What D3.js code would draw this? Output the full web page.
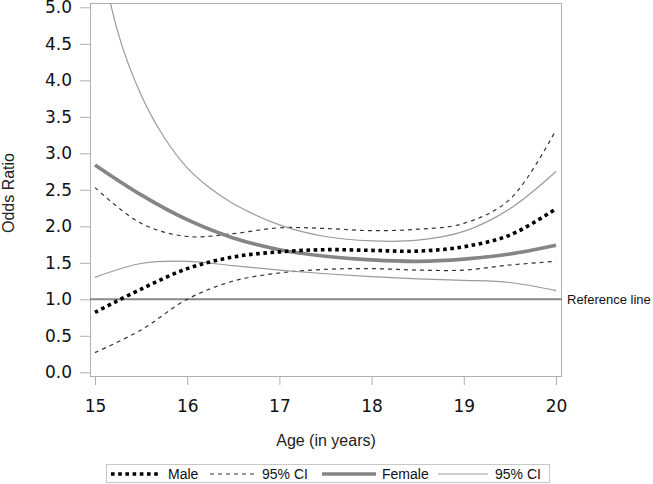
<!DOCTYPE html>
<html>
<head>
<meta charset="utf-8">
<script src="https://cdn.jsdelivr.net/npm/d3@7"></script>
<style>
  html, body { margin: 0; padding: 0; background: #fff; }
  svg { display: block; }
</style>
</head>
<body>
<svg id="chart" width="653" height="484"></svg>
<script>
// ---- data ----
const ages = [15, 15.5, 16, 16.5, 17, 17.5, 18, 18.5, 19, 19.5, 20];
const maleOR   = [0.82, 1.14, 1.42, 1.58, 1.65, 1.68, 1.67, 1.66, 1.72, 1.88, 2.24];
const maleLo   = [0.27, 0.58, 1.00, 1.25, 1.36, 1.41, 1.42, 1.40, 1.40, 1.47, 1.52];
const maleHi   = [2.53, 2.04, 1.86, 1.90, 1.98, 1.97, 1.94, 1.96, 2.04, 2.37, 3.32];
const femaleOR = [2.84, 2.43, 2.09, 1.84, 1.68, 1.59, 1.54, 1.52, 1.55, 1.62, 1.74];
const femaleLo = [1.30, 1.49, 1.52, 1.46, 1.40, 1.35, 1.31, 1.28, 1.26, 1.23, 1.12];
const femaleHiAges = [15, 15.25, 15.5, 15.75, 16, 16.25, 16.5, 17, 17.5, 18, 18.5, 19, 19.5, 20];
const femaleHi     = [6.1, 4.65, 3.8, 3.22, 2.8, 2.52, 2.31, 2.02, 1.86, 1.80, 1.81, 1.93, 2.24, 2.75];
const xTicks = [15, 16, 17, 18, 19, 20];
const yTicks = [0, 0.5, 1, 1.5, 2, 2.5, 3, 3.5, 4, 4.5, 5];
const referenceValue = 1;
const legendLabels = ["Male", "95% CI", "Female", "95% CI"];
const xTitle = "Age (in years)";
const yTitle = "Odds Ratio";
const refLabel = "Reference line";

// ---- layout ----
const frame = { left: 90, right: 562, top: 3, bottom: 377 };
const svg = d3.select("#chart");

const x = d3.scaleLinear().domain([15, 20]).range([95, 556]);
const y = d3.scaleLinear().domain([0, 5]).range([372.3, 7.3]);

const tickFont = "'DejaVu Sans', sans-serif";
const textFont = "'Liberation Sans', Arial, sans-serif";

// clip
svg.append("defs").append("clipPath").attr("id", "plotclip")
  .append("rect")
  .attr("x", frame.left).attr("y", frame.top)
  .attr("width", frame.right - frame.left).attr("height", frame.bottom - frame.top);

// frame
svg.append("rect")
  .attr("x", frame.left + 0.5).attr("y", frame.top + 0.5)
  .attr("width", frame.right - frame.left - 1).attr("height", frame.bottom - frame.top - 1)
  .attr("fill", "none").attr("stroke", "#b0b0b0").attr("stroke-width", 1);

// y axis
const yAxis = svg.append("g")
  .attr("transform", `translate(${frame.left},0)`)
  .call(d3.axisLeft(y).tickValues(yTicks).tickFormat(d3.format(".1f"))
        .tickSize(10).tickPadding(8).tickSizeOuter(0));
yAxis.select(".domain").remove();
yAxis.selectAll(".tick line").attr("stroke", "#b0b0b0");
yAxis.selectAll(".tick text").attr("font-family", tickFont).attr("font-size", 17).attr("fill", "#111");

// x axis
const xAxis = svg.append("g")
  .attr("transform", `translate(0,${frame.bottom})`)
  .call(d3.axisBottom(x).tickValues(xTicks).tickFormat(d3.format("d"))
        .tickSize(8).tickPadding(15).tickSizeOuter(0));
xAxis.select(".domain").remove();
xAxis.selectAll(".tick line").attr("stroke", "#b0b0b0");
xAxis.selectAll(".tick text").attr("font-family", tickFont).attr("font-size", 17).attr("fill", "#111");

// axis titles
svg.append("text")
  .attr("x", (frame.left + frame.right) / 2).attr("y", 446)
  .attr("text-anchor", "middle")
  .attr("font-family", textFont).attr("font-size", 16).attr("fill", "#222")
  .text(xTitle);
svg.append("text")
  .attr("transform", `translate(14,193) rotate(-90)`)
  .attr("text-anchor", "middle")
  .attr("font-family", textFont).attr("font-size", 16).attr("fill", "#222")
  .text(yTitle);

// reference line
svg.append("line")
  .attr("x1", frame.left).attr("x2", frame.right)
  .attr("y1", y(referenceValue)).attr("y2", y(referenceValue))
  .attr("stroke", "#888").attr("stroke-width", 2);
svg.append("text")
  .attr("x", frame.right + 5).attr("y", y(referenceValue) + 4.5)
  .attr("font-family", textFont).attr("font-size", 13).attr("fill", "#111")
  .text(refLabel);

// series
const styles = {
  male:   { stroke: "#000",    width: 3.6, dash: "3.6,3.6" },
  maleCI: { stroke: "#333",    width: 1.2, dash: "4,4" },
  female: { stroke: "#858585", width: 3.6, dash: null },
  femCI:  { stroke: "#9a9a9a", width: 1.2, dash: null }
};

const series = [
  { xs: ages, ys: maleLo, style: styles.maleCI },
  { xs: ages, ys: maleHi, style: styles.maleCI },
  { xs: ages, ys: femaleLo, style: styles.femCI },
  { xs: femaleHiAges, ys: femaleHi, style: styles.femCI },
  { xs: ages, ys: femaleOR, style: styles.female },
  { xs: ages, ys: maleOR, style: styles.male }
];

const line = d3.line().x(d => x(d[0])).y(d => y(d[1])).curve(d3.curveCatmullRom.alpha(0.5));
const plot = svg.append("g").attr("clip-path", "url(#plotclip)");
series.forEach(s => {
  plot.append("path")
    .datum(s.xs.map((a, i) => [a, s.ys[i]]))
    .attr("d", line)
    .attr("fill", "none")
    .attr("stroke", s.style.stroke)
    .attr("stroke-width", s.style.width)
    .attr("stroke-dasharray", s.style.dash);
});

// legend
const lg = svg.append("g");
lg.append("rect")
  .attr("x", 106.5).attr("y", 464.5).attr("width", 443).attr("height", 18)
  .attr("fill", "#fff").attr("stroke", "#c8c8c8");
const legendItems = [
  { style: styles.male,   x0: 111, x1: 160, tx: 168 },
  { style: styles.maleCI, x0: 210, x1: 254, tx: 262 },
  { style: styles.female, x0: 322, x1: 376, tx: 382 },
  { style: styles.femCI,  x0: 438, x1: 488, tx: 495 }
];
legendItems.forEach((it, i) => {
  lg.append("line")
    .attr("x1", it.x0).attr("x2", it.x1).attr("y1", 474).attr("y2", 474)
    .attr("stroke", it.style.stroke).attr("stroke-width", it.style.width)
    .attr("stroke-dasharray", it.style.dash);
  lg.append("text")
    .attr("x", it.tx).attr("y", 479)
    .attr("font-family", textFont).attr("font-size", 14).attr("fill", "#111")
    .text(legendLabels[i]);
});
</script>
</body>
</html>
